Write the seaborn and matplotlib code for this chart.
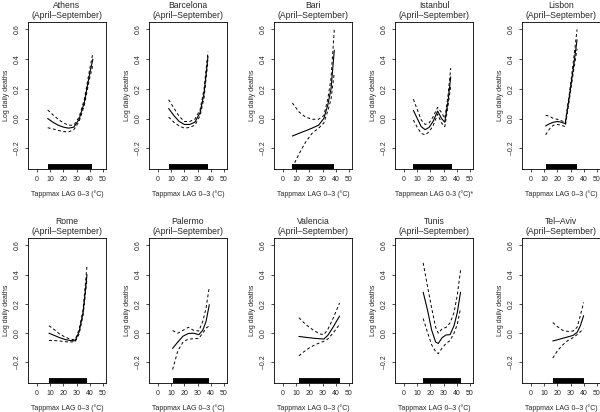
import numpy as np
import pandas as pd
import matplotlib
matplotlib.use("Agg")
import matplotlib.pyplot as plt
import seaborn as sns

# ---- data (temperature, log daily deaths) ----
cities = ["Athens", "Barcelona", "Bari", "Istanbul", "Lisbon",
          "Rome", "Palermo", "Valencia", "Tunis", "Tel\u2013Aviv"]
xlabels = ["Tappmax LAG 0\u20133 (\u00b0C)"] * 10
xlabels[3] = "Tappmean LAG 0-3 (\u00b0C)*"

athens_x = [8, 12, 16, 20, 24, 28, 32, 36, 40, 42.5]
athens_est = [0.0, -0.025, -0.045, -0.058, -0.065, -0.058, -0.005, 0.11, 0.30, 0.40]
athens_lo = [-0.062, -0.07, -0.08, -0.088, -0.09, -0.075, -0.02, 0.09, 0.27, 0.36]
athens_hi = [0.058, 0.025, -0.005, -0.03, -0.045, -0.045, 0.01, 0.13, 0.33, 0.44]

barcelona_x = [8, 12, 16, 20, 24, 28, 32, 35, 38]
barcelona_est = [0.067, 0.02, -0.02, -0.04, -0.04, -0.025, 0.04, 0.17, 0.42]
barcelona_lo = [0.01, -0.025, -0.05, -0.065, -0.06, -0.045, 0.02, 0.14, 0.39]
barcelona_hi = [0.127, 0.07, 0.015, -0.02, -0.02, -0.005, 0.06, 0.20, 0.45]

bari_x = [7, 12, 17, 22, 27, 31, 34, 36.5, 39]
bari_est = [-0.118, -0.1, -0.083, -0.065, -0.045, 0.0, 0.09, 0.2, 0.46]
bari_lo = [-0.33, -0.24, -0.16, -0.1, -0.065, -0.03, 0.05, 0.13, 0.31]
bari_hi = [0.105, 0.045, 0.01, -0.005, -0.005, 0.02, 0.13, 0.27, 0.6]

istanbul_x = [7, 10, 13, 16, 19, 22, 25.5, 28.5, 31, 33.5, 35.5]
istanbul_est = [0.055, 0.0, -0.055, -0.075, -0.06, -0.02, 0.05, 0.0, -0.025, 0.12, 0.28]
istanbul_lo = [-0.01, -0.06, -0.1, -0.11, -0.09, -0.05, 0.03, -0.03, -0.055, 0.09, 0.22]
istanbul_hi = [0.13, 0.06, -0.01, -0.04, -0.03, 0.01, 0.075, 0.04, 0.0, 0.16, 0.34]

lisbon_x = [11, 14, 17, 20, 23, 26, 29, 32, 35]
lisbon_est = [-0.05, -0.035, -0.025, -0.02, -0.025, -0.035, 0.14, 0.33, 0.53]
lisbon_lo = [-0.11, -0.07, -0.045, -0.04, -0.045, -0.055, 0.12, 0.30, 0.47]
lisbon_hi = [0.022, 0.015, 0.0, -0.005, -0.015, -0.025, 0.16, 0.37, 0.6]

rome_x = [9, 13, 17, 21, 25, 29, 32, 35, 38]
rome_est = [0.0, -0.015, -0.03, -0.042, -0.05, -0.052, 0.01, 0.14, 0.40]
rome_lo = [-0.049, -0.05, -0.053, -0.058, -0.06, -0.058, -0.005, 0.12, 0.37]
rome_hi = [0.051, 0.025, -0.005, -0.025, -0.04, -0.045, 0.025, 0.16, 0.46]

palermo_x = [11, 15, 19, 23, 27, 31, 34, 36.5, 39]
palermo_est = [-0.104, -0.06, -0.02, -0.002, 0.0, -0.01, 0.02, 0.08, 0.195]
palermo_lo = [-0.248, -0.12, -0.06, -0.04, -0.038, -0.035, 0.0, 0.035, 0.05]
palermo_hi = [0.018, 0.0, 0.02, 0.04, 0.02, 0.015, 0.08, 0.17, 0.316]

valencia_x = [12, 16, 20, 24, 28, 31, 34, 38, 43]
valencia_est = [-0.022, -0.027, -0.031, -0.035, -0.038, -0.04, -0.015, 0.04, 0.117]
valencia_lo = [-0.155, -0.125, -0.1, -0.08, -0.065, -0.055, -0.04, 0.0, 0.06]
valencia_hi = [0.106, 0.07, 0.04, 0.015, -0.005, -0.01, 0.025, 0.1, 0.206]

tunis_x = [14.5, 18, 21, 24, 26, 29, 32, 35, 38, 40.5, 43]
tunis_est = [0.28, 0.15, 0.02, -0.06, -0.07, -0.03, -0.012, -0.01, 0.05, 0.14, 0.28]
tunis_lo = [0.1, 0.0, -0.08, -0.125, -0.14, -0.1, -0.07, -0.05, 0.0, 0.06, 0.17]
tunis_hi = [0.48, 0.31, 0.17, 0.04, 0.0, 0.03, 0.04, 0.07, 0.14, 0.26, 0.43]

telaviv_x = [16.5, 20, 24, 28, 32, 35, 37.5, 40]
telaviv_est = [-0.053, -0.045, -0.035, -0.025, -0.015, 0.005, 0.05, 0.12]
telaviv_lo = [-0.17, -0.12, -0.08, -0.05, -0.03, -0.01, 0.01, 0.03]
telaviv_hi = [0.073, 0.045, 0.02, 0.012, 0.015, 0.04, 0.12, 0.21]

# observed temperature range (rug at the bottom)
rug_lo = [8, 8, 7, 7, 11, 9, 11, 12, 14.5, 16.5]
rug_hi = [42, 38, 39, 36.5, 35, 38, 39, 43, 43, 40]

curves = [
    (athens_x, athens_est, athens_lo, athens_hi),
    (barcelona_x, barcelona_est, barcelona_lo, barcelona_hi),
    (bari_x, bari_est, bari_lo, bari_hi),
    (istanbul_x, istanbul_est, istanbul_lo, istanbul_hi),
    (lisbon_x, lisbon_est, lisbon_lo, lisbon_hi),
    (rome_x, rome_est, rome_lo, rome_hi),
    (palermo_x, palermo_est, palermo_lo, palermo_hi),
    (valencia_x, valencia_est, valencia_lo, valencia_hi),
    (tunis_x, tunis_est, tunis_lo, tunis_hi),
    (telaviv_x, telaviv_est, telaviv_lo, telaviv_hi),
]

# ---- style ----
sns.set_style("ticks")
plt.rcParams["font.family"] = ["Liberation Sans", "DejaVu Sans"]
plt.rcParams["axes.linewidth"] = 0.6

fig = plt.figure(figsize=(6, 4.12), dpi=100)

lefts = [28, 149, 274, 395, 522]
YMIN, YMAX = -0.34, 0.65

for i, city in enumerate(cities):
    row, col = divmod(i, 5)
    if row == 0:
        rect = [lefts[col] / 600, 1 - 169 / 412, 78 / 600, 147 / 412]
    else:
        rect = [lefts[col] / 600, 1 - 383 / 412, 78 / 600, 145 / 412]
    ax = fig.add_axes(rect)
    x, est, lo, hi = curves[i]
    df = pd.DataFrame({"x": x, "est": est, "lo": lo, "hi": hi})

    sns.lineplot(data=df, x="x", y="est", ax=ax, color="black", lw=0.8,
                 estimator=None, sort=False)
    for col_name in ["lo", "hi"]:
        sns.lineplot(data=df, x="x", y=col_name, ax=ax, color="black", lw=0.7,
                     linestyle=(0, (3, 2.5)), estimator=None, sort=False)

    # rug band along the x axis
    ax.hlines(YMIN + 0.014, rug_lo[i], rug_hi[i], color="black", lw=4.2)

    ax.set_xlim(-7, 52.5)
    ax.set_ylim(YMIN, YMAX)
    ax.set_xticks([0, 10, 20, 30, 40, 50])
    ax.set_yticks([-0.2, 0.0, 0.2, 0.4, 0.6])
    ax.set_yticklabels(["\u20130.2", "0.0", "0.2", "0.4", "0.6"],
                       rotation=90, va="center")
    ax.tick_params(labelsize=5, length=2.5, width=0.5, pad=2.5, color="black")
    for s in ax.spines.values():
        s.set_visible(True)
        s.set_color("black")
        s.set_linewidth(0.6)
    ax.set_xlabel(xlabels[i], fontsize=5, labelpad=5)
    ax.set_ylabel("Log daily deaths", fontsize=5, labelpad=3)
    ax.set_title(city + "\n(April\u2013September)", fontsize=6.2,
                 linespacing=1.05, pad=3)

fig.savefig("out.png", dpi=100, facecolor="white")
